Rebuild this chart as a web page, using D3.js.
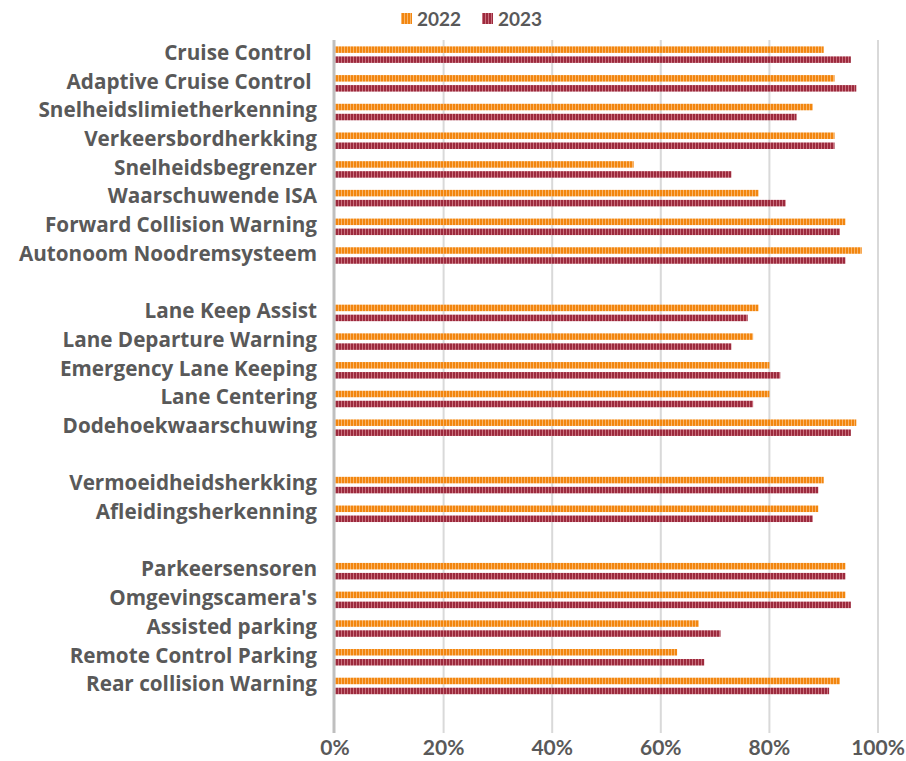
<!DOCTYPE html>
<html><head><meta charset="utf-8">
<script src="https://cdn.jsdelivr.net/npm/d3@7"></script>
<style>body{margin:0;background:#fff}svg{display:block}text{font-family:Lato,"Open Sans",sans-serif;font-weight:bold;fill:#595959}text.cat{font-family:"Open Sans",sans-serif;font-weight:bold}</style>
</head><body><div id="chart"></div>
<script>
const categories = ["Cruise Control ","Adaptive Cruise Control ","Snelheidslimietherkenning","Verkeersbordherkking","Snelheidsbegrenzer","Waarschuwende ISA","Forward Collision Warning","Autonoom Noodremsysteem","",
"Lane Keep Assist","Lane Departure Warning","Emergency Lane Keeping","Lane Centering","Dodehoekwaarschuwing","",
"Vermoeidheidsherkking","Afleidingsherkenning","",
"Parkeersensoren","Omgevingscamera's","Assisted parking","Remote Control Parking","Rear collision Warning",""];
const values2022 = [90,92,88,92,55,78,94,97,null,78,77,80,80,96,null,90,89,null,94,94,67,63,93,null];
const values2023 = [95,96,85,92,73,83,93,94,null,76,73,82,77,95,null,89,88,null,94,95,71,68,91,null];
const seriesNames = ["2022","2023"];
const xTicks = [0,20,40,60,80,100];

const W=906,H=761;
const svg=d3.select("#chart").append("svg").attr("width",W).attr("height",H);
const defs=svg.append("defs");
const cols=[{base:"#F2860F",light:"#F9B56A"},{base:"#9C2A3D",light:"#C9707E"}];
cols.forEach((c,i)=>{
  const p=defs.append("pattern").attr("id","pat"+i).attr("patternUnits","userSpaceOnUse").attr("width",3).attr("height",10);
  p.append("rect").attr("width",3).attr("height",10).attr("fill",c.base);
  p.append("rect").attr("x",2).attr("width",1).attr("height",10).attr("fill",c.light);
});

const x=d3.scaleLinear().domain([0,100]).range([335,878]);
const y=d3.scaleBand().domain(d3.range(categories.length)).range([40.3,729]);
const sub=d3.scaleBand().domain([0,1]).range([0,y.bandwidth()]).paddingInner(0.35).paddingOuter(0.61);

svg.append("g").selectAll("line").data(xTicks.slice(1)).join("line")
  .attr("x1",d=>x(d)).attr("x2",d=>x(d)).attr("y1",40).attr("y2",733)
  .attr("stroke","#d9d9d9").attr("stroke-width",2);

[values2022,values2023].forEach((vals,si)=>{
  svg.append("g").selectAll("rect").data(vals.map((v,i)=>({v,i})).filter(d=>d.v!=null)).join("rect")
    .attr("x",x(0)).attr("y",d=>y(d.i)+sub(si)).attr("height",sub.bandwidth())
    .attr("width",d=>x(d.v)-x(0)).attr("fill","url(#pat"+si+")");
});

svg.append("line").attr("x1",x(0)-1).attr("x2",x(0)-1).attr("y1",40).attr("y2",733)
  .attr("stroke","#bfbfbf").attr("stroke-width",3);

svg.append("g").selectAll("text").data(categories).join("text").attr("class","cat")
  .attr("x",317).attr("y",(d,i)=>y(i)+y.bandwidth()/2-2).attr("dy","0.35em")
  .attr("text-anchor","end").attr("font-size",20.7).style("white-space","pre").text(d=>d);

svg.append("g").selectAll("text").data(xTicks).join("text")
  .attr("x",d=>x(d)).attr("y",748).attr("dy","0.35em").attr("text-anchor","middle")
  .attr("font-size",21).text(d=>d+"%");

const leg=svg.append("g");
const lx=[401,482];
seriesNames.forEach((n,i)=>{
  leg.append("rect").attr("x",lx[i]).attr("y",13).attr("width",11).attr("height",11).attr("fill","url(#pat"+i+")");
  leg.append("text").attr("x",lx[i]+16).attr("y",19).attr("dy","0.35em").attr("font-size",19).text(n);
});
</script></body></html>
